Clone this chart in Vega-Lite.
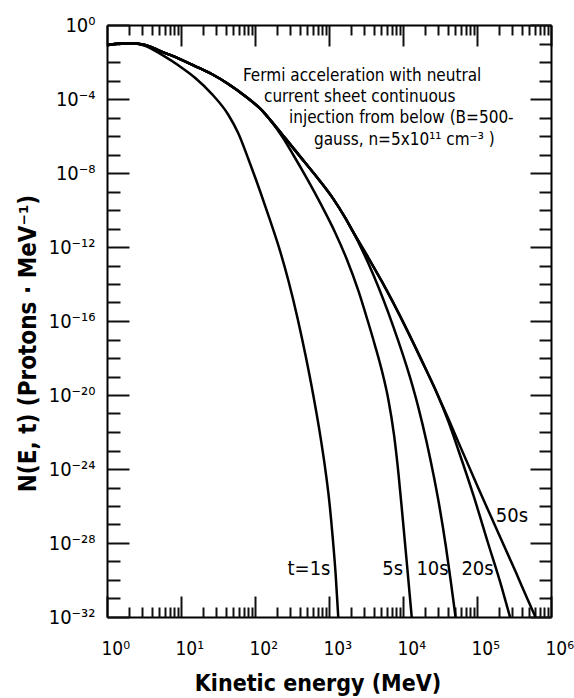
{
  "$schema": "https://vega.github.io/schema/vega-lite/v6.json",
  "width": 444,
  "height": 592,
  "autosize": {"type": "none"},
  "padding": {"left": 107, "top": 25, "right": 23, "bottom": 81},
  "background": "white",
  "config": {
    "view": {"stroke": null},
    "axis": {"grid": false, "domainColor": "black", "domainWidth": 2, "labelColor": "black", "titleColor": "black", "labelFont": "DejaVu Sans Condensed, DejaVu Sans, sans-serif", "titleFont": "DejaVu Sans Condensed, DejaVu Sans, sans-serif", "labelFlush": false, "labelOverlap": false},
    "text": {"font": "DejaVu Sans Condensed, DejaVu Sans, sans-serif", "color": "black"}
  },
  "datasets": {
    "curves": [
      {"t": "1s", "E": 1, "N": 0.0794}, {"t": "1s", "E": 1.5, "N": 0.1}, {"t": "1s", "E": 2.244, "N": 0.1047}, {"t": "1s", "E": 3.266, "N": 0.0759}, {"t": "1s", "E": 5.483, "N": 0.0251}, {"t": "1s", "E": 9.204, "N": 0.00661}, {"t": "1s", "E": 15.45, "N": 0.00141}, {"t": "1s", "E": 26.0, "N": 1.905e-4}, {"t": "1s", "E": 43.55, "N": 1.413e-5}, {"t": "1s", "E": 59.43, "N": 1.413e-6}, {"t": "1s", "E": 83.18, "N": 4.467e-8}, {"t": "1s", "E": 117.5, "N": 1e-9}, {"t": "1s", "E": 159.6, "N": 2.818e-11}, {"t": "1s", "E": 213.8, "N": 7.943e-13}, {"t": "1s", "E": 281.8, "N": 1.585e-14}, {"t": "1s", "E": 375.8, "N": 1.413e-16}, {"t": "1s", "E": 478.6, "N": 1.585e-18}, {"t": "1s", "E": 612.4, "N": 1e-20}, {"t": "1s", "E": 741.3, "N": 1.259e-22}, {"t": "1s", "E": 883.1, "N": 1.259e-24}, {"t": "1s", "E": 1000, "N": 2.512e-26}, {"t": "1s", "E": 1122, "N": 1.995e-28}, {"t": "1s", "E": 1230, "N": 1.995e-30}, {"t": "1s", "E": 1334, "N": 1e-32},

      {"t": "5s", "E": 1, "N": 0.0794}, {"t": "5s", "E": 1.5, "N": 0.1}, {"t": "5s", "E": 2.244, "N": 0.1047}, {"t": "5s", "E": 3.266, "N": 0.0832}, {"t": "5s", "E": 5.483, "N": 0.0363}, {"t": "5s", "E": 9.204, "N": 0.01585}, {"t": "5s", "E": 15.45, "N": 0.006026}, {"t": "5s", "E": 26.0, "N": 0.002239}, {"t": "5s", "E": 43.55, "N": 6.457e-4}, {"t": "5s", "E": 73.28, "N": 1.445e-4}, {"t": "5s", "E": 123.3, "N": 2.512e-5}, {"t": "5s", "E": 169.8, "N": 5.623e-6}, {"t": "5s", "E": 238.8, "N": 7.943e-7}, {"t": "5s", "E": 326.6, "N": 1e-7}, {"t": "5s", "E": 520.0, "N": 3.981e-9}, {"t": "5s", "E": 779.8, "N": 1.995e-10}, {"t": "5s", "E": 1205, "N": 6.31e-12}, {"t": "5s", "E": 1734, "N": 2.239e-13}, {"t": "5s", "E": 2512, "N": 3.981e-15}, {"t": "5s", "E": 3228, "N": 1.585e-16}, {"t": "5s", "E": 4169, "N": 5.012e-18}, {"t": "5s", "E": 5420, "N": 1e-19}, {"t": "5s", "E": 6310, "N": 6.31e-21}, {"t": "5s", "E": 7586, "N": 6.31e-23}, {"t": "5s", "E": 8710, "N": 5.012e-25}, {"t": "5s", "E": 9772, "N": 3.981e-27}, {"t": "5s", "E": 11220, "N": 1e-29}, {"t": "5s", "E": 13120, "N": 1e-32},

      {"t": "10s", "E": 1, "N": 0.0794}, {"t": "10s", "E": 1.5, "N": 0.1}, {"t": "10s", "E": 2.244, "N": 0.1047}, {"t": "10s", "E": 3.266, "N": 0.0832}, {"t": "10s", "E": 5.483, "N": 0.0363}, {"t": "10s", "E": 9.204, "N": 0.01585}, {"t": "10s", "E": 15.45, "N": 0.006026}, {"t": "10s", "E": 26.0, "N": 0.002239}, {"t": "10s", "E": 43.55, "N": 6.457e-4}, {"t": "10s", "E": 73.28, "N": 1.445e-4}, {"t": "10s", "E": 123.3, "N": 2.512e-5}, {"t": "10s", "E": 169.8, "N": 5.623e-6}, {"t": "10s", "E": 254.1, "N": 7.943e-7}, {"t": "10s", "E": 405.5, "N": 7.943e-8}, {"t": "10s", "E": 647.1, "N": 7.943e-9}, {"t": "10s", "E": 1143, "N": 3.981e-10}, {"t": "10s", "E": 1644, "N": 3.981e-11}, {"t": "10s", "E": 2128, "N": 6.31e-12}, {"t": "10s", "E": 2877, "N": 5.623e-13}, {"t": "10s", "E": 3972, "N": 3.162e-14}, {"t": "10s", "E": 7396, "N": 5.012e-17}, {"t": "10s", "E": 12450, "N": 8.913e-20}, {"t": "10s", "E": 15960, "N": 2.512e-21}, {"t": "10s", "E": 20890, "N": 2.818e-23}, {"t": "10s", "E": 26240, "N": 3.548e-25}, {"t": "10s", "E": 31620, "N": 6.31e-27}, {"t": "10s", "E": 38020, "N": 6.31e-29}, {"t": "10s", "E": 44670, "N": 6.31e-31}, {"t": "10s", "E": 51290, "N": 1e-32},

      {"t": "20s", "E": 1, "N": 0.0794}, {"t": "20s", "E": 1.5, "N": 0.1}, {"t": "20s", "E": 2.244, "N": 0.1047}, {"t": "20s", "E": 3.266, "N": 0.0832}, {"t": "20s", "E": 5.483, "N": 0.0363}, {"t": "20s", "E": 9.204, "N": 0.01585}, {"t": "20s", "E": 15.45, "N": 0.006026}, {"t": "20s", "E": 26.0, "N": 0.002239}, {"t": "20s", "E": 43.55, "N": 6.457e-4}, {"t": "20s", "E": 73.28, "N": 1.445e-4}, {"t": "20s", "E": 123.3, "N": 2.512e-5}, {"t": "20s", "E": 169.8, "N": 5.623e-6}, {"t": "20s", "E": 254.1, "N": 7.943e-7}, {"t": "20s", "E": 405.5, "N": 7.943e-8}, {"t": "20s", "E": 647.1, "N": 7.943e-9}, {"t": "20s", "E": 1143, "N": 3.981e-10}, {"t": "20s", "E": 1644, "N": 3.981e-11}, {"t": "20s", "E": 2128, "N": 6.31e-12}, {"t": "20s", "E": 3365, "N": 2.818e-13}, {"t": "20s", "E": 5152, "N": 1.413e-14}, {"t": "20s", "E": 11220, "N": 3.548e-17}, {"t": "20s", "E": 19230, "N": 3.981e-19}, {"t": "20s", "E": 28770, "N": 1.259e-20}, {"t": "20s", "E": 41210, "N": 3.548e-22}, {"t": "20s", "E": 56230, "N": 1e-23}, {"t": "20s", "E": 89130, "N": 3.981e-26}, {"t": "20s", "E": 140900, "N": 1e-28}, {"t": "20s", "E": 215800, "N": 3.981e-31}, {"t": "20s", "E": 279300, "N": 1e-32},

      {"t": "50s", "E": 1, "N": 0.0794}, {"t": "50s", "E": 1.5, "N": 0.1}, {"t": "50s", "E": 2.244, "N": 0.1047}, {"t": "50s", "E": 3.266, "N": 0.0832}, {"t": "50s", "E": 5.483, "N": 0.0363}, {"t": "50s", "E": 9.204, "N": 0.01585}, {"t": "50s", "E": 15.45, "N": 0.006026}, {"t": "50s", "E": 26.0, "N": 0.002239}, {"t": "50s", "E": 43.55, "N": 6.457e-4}, {"t": "50s", "E": 73.28, "N": 1.445e-4}, {"t": "50s", "E": 123.3, "N": 2.512e-5}, {"t": "50s", "E": 169.8, "N": 5.623e-6}, {"t": "50s", "E": 254.1, "N": 7.943e-7}, {"t": "50s", "E": 405.5, "N": 7.943e-8}, {"t": "50s", "E": 647.1, "N": 7.943e-9}, {"t": "50s", "E": 1143, "N": 3.981e-10}, {"t": "50s", "E": 1644, "N": 3.981e-11}, {"t": "50s", "E": 2128, "N": 6.31e-12}, {"t": "50s", "E": 3365, "N": 2.818e-13}, {"t": "50s", "E": 5152, "N": 1.413e-14}, {"t": "50s", "E": 11220, "N": 3.548e-17}, {"t": "50s", "E": 19230, "N": 3.981e-19}, {"t": "50s", "E": 28770, "N": 1.259e-20}, {"t": "50s", "E": 41210, "N": 5.012e-22}, {"t": "50s", "E": 58880, "N": 1.778e-23}, {"t": "50s", "E": 103300, "N": 1e-25}, {"t": "50s", "E": 186200, "N": 5.012e-28}, {"t": "50s", "E": 336500, "N": 2.512e-30}, {"t": "50s", "E": 488700, "N": 7.943e-32}, {"t": "50s", "E": 616600, "N": 1e-32}
    ],
    "curveLabels": [
      {"label": "t=1s", "E": 537, "N": 3.9e-30},
      {"label": "5s", "E": 7260, "N": 3.9e-30},
      {"label": "10s", "E": 25050, "N": 3.9e-30},
      {"label": "20s", "E": 101600, "N": 3.9e-30},
      {"label": "50s", "E": 297000, "N": 2.88e-27}
    ],
    "fermi": [
      {"label": "Fermi acceleration with neutral", "E": 68.8, "N": 1.75e-3},
      {"label": "current sheet continuous", "E": 132.4, "N": 1.28e-4},
      {"label": "injection from below (B=500-", "E": 288, "N": 9.4e-6},
      {"label": "gauss, n=5x10¹¹ cm⁻³ )", "E": 627, "N": 6.08e-7}
    ],
    "params": [
      {"label": "α =0.04s⁻¹", "E": 2.11, "N": 9.3e-24},
      {"label": "τ = 1s", "E": 2.11, "N": 1.07e-25},
      {"label": "E₀= 1 MeV", "E": 2.11, "N": 1.55e-27}
    ]
  },
  "layer": [
    {
      "data": {"name": "curves"},
      "mark": {"type": "line", "color": "black", "strokeWidth": 2.5, "interpolate": "monotone", "clip": true},
      "encoding": {
        "x": {"field": "E", "type": "quantitative", "scale": {"type": "log", "domain": [1, 1000000], "nice": false},
          "axis": {"orient": "bottom", "values": [1, 10, 100, 1000, 10000, 100000, 1000000], "ticks": true, "tickSize": -21, "tickColor": "#101010", "tickWidth": 2,
            "labelExpr": "'10' + substring('⁰¹²³⁴⁵⁶⁷⁸⁹', round(log(datum.value)/LN10), round(log(datum.value)/LN10)+1)",
            "labelFontSize": 19, "labelPadding": 43, "labelAlign": "left", "labelBaseline": "top", "labelOffset": -6,
            "title": "Kinetic energy (MeV)", "titleFontSize": 23, "titleFontWeight": "bold", "titleX": 210.5, "titleY": 73, "titleAlign": "center", "titleBaseline": "alphabetic"}},
        "y": {"field": "N", "type": "quantitative", "scale": {"type": "log", "domain": [1e-32, 1], "nice": false},
          "axis": {"orient": "left", "values": [1, 1e-4, 1e-8, 1e-12, 1e-16, 1e-20, 1e-24, 1e-28, 1e-32], "ticks": true, "tickSize": -22, "tickColor": "#101010", "tickWidth": 2,
            "labelExpr": "'10' + (datum.value < 0.5 ? '⁻' : '') + (abs(round(log(datum.value)/LN10)) >= 10 ? substring('⁰¹²³⁴⁵⁶⁷⁸⁹', floor(abs(round(log(datum.value)/LN10))/10), floor(abs(round(log(datum.value)/LN10))/10)+1) : '') + substring('⁰¹²³⁴⁵⁶⁷⁸⁹', abs(round(log(datum.value)/LN10)) % 10, abs(round(log(datum.value)/LN10)) % 10 + 1)",
            "labelFontSize": 20, "labelPadding": 34, "labelAlign": "right", "labelBaseline": "middle",
            "title": "N(E, t)  (Protons · MeV⁻¹)", "titleFontSize": 24, "titleFontWeight": "bold", "titleX": -79, "titleY": 318, "titleAngle": 270, "titleAlign": "center", "titleBaseline": "middle"}},
        "detail": {"field": "t"}
      }
    },
    {
      "data": {"name": "curveLabels"},
      "mark": {"type": "text", "fontSize": 20, "align": "center", "baseline": "middle"},
      "encoding": {
        "x": {"field": "E", "type": "quantitative", "axis": {"orient": "top", "offset": -592, "domain": false, "labels": false, "title": null, "ticks": true, "tickColor": "#101010", "tickWidth": 2,
          "values": [2,3,4,5,6,7,8,9,20,30,40,50,60,70,80,90,200,300,400,500,600,700,800,900,2000,3000,4000,5000,6000,7000,8000,9000,20000,30000,40000,50000,60000,70000,80000,90000,200000,300000,400000,500000,600000,700000,800000,900000],
          "tickSize": 10}},
        "y": {"field": "N", "type": "quantitative", "axis": {"orient": "right", "offset": -444, "domain": false, "labels": false, "title": null, "ticks": true, "tickColor": "#101010", "tickWidth": 2,
          "values": [1e-1,1e-2,1e-3,1e-5,1e-6,1e-7,1e-9,1e-10,1e-11,1e-13,1e-14,1e-15,1e-17,1e-18,1e-19,1e-21,1e-22,1e-23,1e-25,1e-26,1e-27,1e-29,1e-30,1e-31],
          "tickSize": 13}},
        "text": {"field": "label"}
      }
    },
    {
      "data": {"name": "fermi"},
      "mark": {"type": "text", "fontSize": 17, "align": "left", "baseline": "middle"},
      "encoding": {
        "x": {"field": "E", "type": "quantitative", "axis": {"orient": "bottom", "offset": -592, "domain": true, "labels": false, "title": null, "ticks": true, "tickColor": "#101010", "tickWidth": 2,
          "values": [1,2,3,4,5,6,7,8,9,10,20,30,40,50,60,70,80,90,100,200,300,400,500,600,700,800,900,1000,2000,3000,4000,5000,6000,7000,8000,9000,10000,20000,30000,40000,50000,60000,70000,80000,90000,100000,200000,300000,400000,500000,600000,700000,800000,900000,1000000],
          "tickSize": {"condition": {"test": "abs(log(datum.value)/LN10 - round(log(datum.value)/LN10)) < 0.001", "value": 21}, "value": 10}}},
        "y": {"field": "N", "type": "quantitative", "axis": {"orient": "left", "offset": -444, "domain": true, "labels": false, "title": null, "ticks": true, "tickColor": "#101010", "tickWidth": 2,
          "values": [1,1e-1,1e-2,1e-3,1e-4,1e-5,1e-6,1e-7,1e-8,1e-9,1e-10,1e-11,1e-12,1e-13,1e-14,1e-15,1e-16,1e-17,1e-18,1e-19,1e-20,1e-21,1e-22,1e-23,1e-24,1e-25,1e-26,1e-27,1e-28,1e-29,1e-30,1e-31,1e-32],
          "tickSize": {"condition": {"test": "abs(round(log(datum.value)/LN10)) % 4 == 0", "value": 21}, "value": 12}}},
        "text": {"field": "label"}
      }
    }
  ],
  "resolve": {"axis": {"x": "independent", "y": "independent"}}
}
